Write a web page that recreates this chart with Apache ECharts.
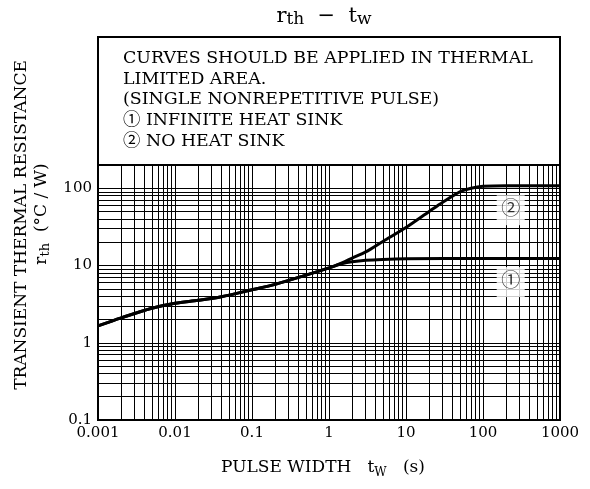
<!DOCTYPE html>
<html><head><meta charset="utf-8">
<script src="https://cdn.jsdelivr.net/npm/echarts@6/dist/echarts.min.js"></script>
<style>html,body{margin:0;padding:0;background:#fff}#c{width:590px;height:489px}</style>
</head><body><div id="c"></div>
<script>
// ---- data ----
const pulseWidth1 = [0.001,0.002,0.005,0.01,0.02,0.04,0.1,0.2,0.5,1,1.5,2,3,5,10,100,1000];
const rthInfinite = [1.65,2.1,2.8,3.25,3.55,3.95,4.85,5.7,7.5,9.3,10.6,11.2,11.7,12.0,12.2,12.3,12.3];
const pulseWidth2 = [0.001,0.002,0.005,0.01,0.02,0.04,0.1,0.2,0.5,1,1.5,2,3,5,10,20,30,50,70,100,200,1000];
const rthNoSink   = [1.65,2.1,2.8,3.25,3.55,3.95,4.85,5.7,7.5,9.3,10.9,12.5,15,20.5,31,50,66,90,100,106,108,108];
const xTicks = [0.001,0.01,0.1,1,10,100,1000];
const yTicks = [0.1,1,10,100];
const gridMultiples = [1,2,3,4,5,6,7,8,9];
const xMin = 0.001, xMax = 1000, yMin = 0.1, yMax = 200;
const curveLabelNames = ['①','②'];
const curveLabelX = [229,229];
const curveLabelY = [6.1,52];
const noteLines = [
  'CURVES SHOULD BE APPLIED IN THERMAL',
  'LIMITED AREA.',
  '(SINGLE NONREPETITIVE PULSE)',
  '① INFINITE HEAT SINK',
  '② NO HEAT SINK'
];

const FONT = "'DejaVu Serif','Noto Sans CJK JP',serif";

// gridlines from decades x multiples
function gridValues(min, max) {
  const out = [];
  for (let e = Math.floor(Math.log10(min)); e <= Math.ceil(Math.log10(max)); e++) {
    for (const m of gridMultiples) {
      const v = +(m * Math.pow(10, e)).toPrecision(6);
      if (v >= min * 0.9999 && v <= max * 1.0001) out.push(v);
    }
  }
  return out;
}
const gridLines = [];
gridValues(xMin, xMax).forEach(v => gridLines.push({coords: [[v, yMin], [v, yMax]]}));
gridValues(yMin, yMax).forEach(v => gridLines.push({coords: [[xMin, v], [xMax, v]]}));

function tickFormatter(ticks) {
  return function (v) {
    for (const t of ticks) if (Math.abs(Math.log10(v) - Math.log10(t)) < 1e-6) return String(t);
    return '';
  };
}

const chart = echarts.init(document.getElementById('c'), null, {renderer: 'canvas'});
chart.setOption({
  animation: false,
  backgroundColor: '#fff',
  grid: {left: 98, right: 30, top: 165, bottom: 69, show: true, borderColor: '#000', borderWidth: 2, backgroundColor: 'transparent', z: 10},
  xAxis: {
    type: 'log', logBase: 10, min: xMin, max: xMax,
    axisLine: {show: false}, axisTick: {show: false}, splitLine: {show: false},
    axisLabel: {formatter: tickFormatter(xTicks), color: '#000', fontFamily: FONT, fontSize: 15, margin: 6, showMinLabel: true, showMaxLabel: true}
  },
  yAxis: {
    type: 'log', logBase: 10, min: yMin, max: yMax,
    axisLine: {show: false}, axisTick: {show: false}, splitLine: {show: false},
    axisLabel: {formatter: tickFormatter(yTicks), color: '#000', fontFamily: FONT, fontSize: 15, margin: 6}
  },
  series: [
    {
      type: 'lines', coordinateSystem: 'cartesian2d', silent: true, z: 1,
      lineStyle: {color: '#000', width: 1, opacity: 1},
      data: gridLines
    },
    {
      type: 'scatter', z: 3, silent: true,
      symbol: 'rect', symbolSize: [28, 30],
      itemStyle: {color: '#fff'},
      label: {show: true, position: 'inside', formatter: p => p.name, color: '#000', fontSize: 19, fontFamily: FONT},
      data: curveLabelNames.map((n, i) => ({name: n, value: [curveLabelX[i], curveLabelY[i]]}))
    },
    {
      type: 'line', name: 'no heat sink', z: 5, smooth: 0.3, showSymbol: false, silent: true,
      lineStyle: {color: '#000', width: 3},
      data: pulseWidth2.map((x, i) => [x, rthNoSink[i]])
    },
    {
      type: 'line', name: 'infinite heat sink', z: 5, smooth: 0.3, showSymbol: false, silent: true,
      lineStyle: {color: '#000', width: 3},
      data: pulseWidth1.map((x, i) => [x, rthInfinite[i]])
    }
  ],
  graphic: [
    {type: 'rect', shape: {x: 98, y: 37, width: 462, height: 128}, style: {fill: 'none', stroke: '#000', lineWidth: 2}, z: 10},
    {type: 'text', x: 123, y: 48, z: 10, style: {text: noteLines.join('\n'), font: "17.4px " + FONT, lineHeight: 20.7, fill: '#000', verticalAlign: 'top'}},
    {type: 'text', x: 324, y: 17, z: 10, style: {
      text: '{n|r}{s|th}{n|  −  t}{s|w}', align: 'center', verticalAlign: 'middle',
      rich: {n: {fontSize: 21, fontFamily: FONT, fill: '#000'}, s: {fontSize: 17, fontFamily: FONT, fill: '#000', padding: [6, 0, 0, 0]}}
    }},
    {type: 'text', x: 323, y: 468, z: 10, style: {
      text: '{n|PULSE WIDTH   t}{s|W}{n|   (s)}', align: 'center', verticalAlign: 'middle',
      rich: {n: {fontSize: 17, fontFamily: FONT, fill: '#000'}, s: {fontSize: 12, fontFamily: FONT, fill: '#000', padding: [9, 0, 0, 0]}}
    }},
    {type: 'text', x: 22, y: 225, rotation: Math.PI / 2, z: 10, style: {
      text: 'TRANSIENT THERMAL RESISTANCE', align: 'center', verticalAlign: 'middle', font: "17px " + FONT, fill: '#000'
    }},
    {type: 'text', x: 42, y: 214, rotation: Math.PI / 2, z: 10, style: {
      text: '{n|r}{s|th}{n|  (°C / W)}', align: 'center', verticalAlign: 'middle',
      rich: {n: {fontSize: 17, fontFamily: FONT, fill: '#000'}, s: {fontSize: 13, fontFamily: FONT, fill: '#000', padding: [8, 0, 0, 0]}}
    }}
  ]
});
</script></body></html>
